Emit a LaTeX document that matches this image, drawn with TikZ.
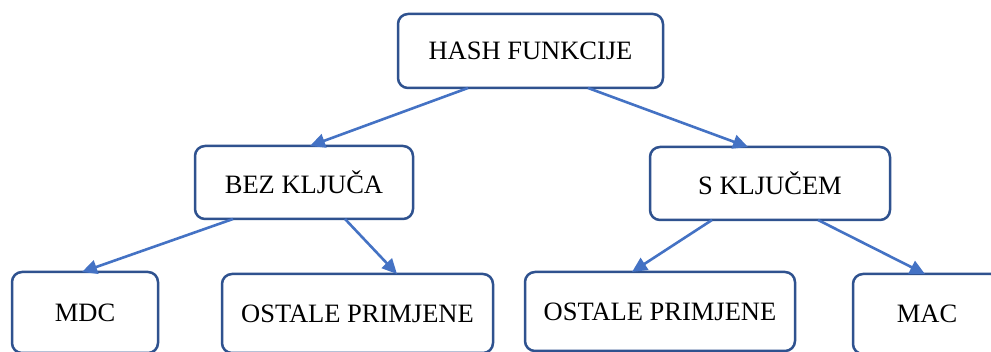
\documentclass[tikz,border=0pt]{standalone}
\usepackage{fontspec}
\setmainfont{Liberation Serif}
\usetikzlibrary{arrows.meta}
\definecolor{boxblue}{HTML}{2F528F}
\definecolor{arrblue}{HTML}{4472C4}
\begin{document}
\begin{tikzpicture}[x=1pt,y=-1pt,
  box/.style={draw=boxblue,line width=2.5pt,rounded corners=10pt,fill=white,
    inner sep=0pt,outer sep=0pt,font=\fontsize{26.5}{31}\selectfont},
  conn/.style={draw=arrblue,line width=2.6pt,-{Triangle[length=15pt,width=14pt]}}]
\useasboundingbox (0,0) rectangle (991,352);
\clip (0,0) rectangle (991,352);
\fill[white] (0,0) rectangle (991,352);
\node[box,minimum width=265pt,minimum height=74pt] (hash) at (530.5,51) {HASH FUNKCIJE};
\node[box,minimum width=218pt,minimum height=73pt] (bez) at (304,182.5) {BEZ KLJUČA};
\node[box,minimum width=240pt,minimum height=73pt] (skl) at (770,183.5) {S KLJUČEM};
\node[box,minimum width=146pt,minimum height=81pt] (mdc) at (85,312.5) {MDC};
\node[box,minimum width=271pt,minimum height=79pt] (ol) at (357.5,313.5) {OSTALE PRIMJENE};
\node[box,minimum width=270pt,minimum height=79pt] (or) at (660,311.5) {OSTALE PRIMJENE};
\node[box,minimum width=148pt,minimum height=80pt] (mac) at (927,314) {MAC};
\draw[conn] ([xshift=-62.5pt]hash.south) -- ([xshift=6pt]bez.north);
\draw[conn] ([xshift=57.5pt]hash.south) -- ([xshift=-22pt]skl.north);
\draw[conn] ([xshift=-71pt]bez.south) -- ([xshift=-3pt]mdc.north);
\draw[conn] ([xshift=41pt]bez.south) -- ([xshift=39.5pt]ol.north);
\draw[conn] ([xshift=-58pt]skl.south) -- ([xshift=-28pt]or.north);
\draw[conn] ([xshift=48pt]skl.south) -- ([xshift=-2pt]mac.north);
\end{tikzpicture}
\end{document}
